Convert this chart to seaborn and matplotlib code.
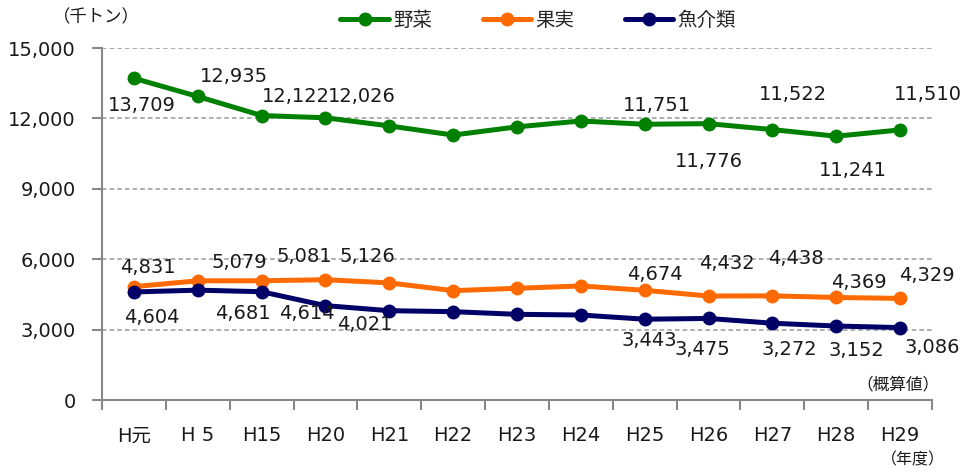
import numpy as np
import pandas as pd
import matplotlib
matplotlib.use("Agg")
import matplotlib.pyplot as plt
import seaborn as sns

years = ["H元", "H 5", "H15", "H20", "H21", "H22", "H23", "H24",
         "H25", "H26", "H27", "H28", "H29"]
vegetables = [13709, 12935, 12122, 12026, 11680, 11290, 11640, 11890,
              11751, 11776, 11522, 11241, 11510]
fruits = [4831, 5079, 5081, 5126, 4990, 4660, 4760, 4860,
          4674, 4432, 4438, 4369, 4329]
fish = [4604, 4681, 4614, 4021, 3806, 3764, 3651, 3622,
        3443, 3475, 3272, 3152, 3086]
series_names = ["野菜", "果実", "魚介類"]
labeled_idx = [0, 1, 2, 3, 8, 9, 10, 11, 12]

colors = ["#008000", "#FF6A00", "#000066"]

# label offsets in pixels (dx, dy) for labeled points
offsets = {
    "野菜": [(8, -27), (36, 20), (34, 19), (36, 21), (12, 19), (0, -38),
           (21, 35), (17, -34), (28, 35)],
    "果実": [(14, 19), (42, 18), (43, 24), (42, 23), (10, 16), (18, 32),
           (23, 37), (23, 15), (27, 23)],
    "魚介類": [(18, -26), (45, -23), (45, -22), (39, -19), (5, -21), (-6, -31),
            (17, -26), (20, -24), (32, -20)],
}

sns.set_theme(style="white")
plt.rcParams["font.family"] = ["DejaVu Sans", "Noto Sans CJK JP"]

df = pd.DataFrame({
    "x": list(range(len(years))) * 3,
    "value": vegetables + fruits + fish,
    "series": [s for s in series_names for _ in years],
})

fig = plt.figure(figsize=(9.66, 4.73), dpi=100)
ax = fig.add_axes([102 / 966, 1 - 400 / 473, 830 / 966, 352 / 473])

sns.lineplot(data=df, x="x", y="value", hue="series", hue_order=series_names,
             palette=colors, marker="o", markersize=10, markeredgewidth=0,
             linewidth=3.6, sort=False, ax=ax, legend=True)

for name, col in zip(series_names, colors):
    vals = df[df["series"] == name]["value"].values
    for (dx, dy), i in zip(offsets[name], labeled_idx):
        ax.annotate(f"{vals[i]:,}", (i, vals[i]), xytext=(dx, dy),
                    textcoords="offset pixels", ha="center", va="center",
                    fontsize=14, color="#1a1a1a")

ax.set_xlim(-0.5, len(years) - 0.5)
ax.set_ylim(0, 15000)
ax.set_yticks(range(0, 15001, 3000))
ax.set_yticklabels([f"{v:,}" for v in range(0, 15001, 3000)])
ax.set_xticks(range(len(years)))
ax.set_xticklabels(years)
ax.set_xticks(np.arange(-0.5, len(years)), minor=True)
ax.tick_params(axis="x", which="major", length=0, pad=19, labelsize=14, labelcolor="#1a1a1a")
ax.tick_params(axis="x", which="minor", length=7, width=1.5, color="#888888", bottom=True)
ax.tick_params(axis="y", length=7, width=1.5, color="#888888", pad=12,
               labelsize=14, labelcolor="#1a1a1a", left=True)
ax.set_xlabel("")
ax.set_ylabel("")

for v in range(3000, 15001, 3000):
    ax.axhline(v, color="#999999", linestyle=(0, (3, 2)), linewidth=1.1, zorder=0)

for side in ["top", "right"]:
    ax.spines[side].set_visible(False)
for side in ["left", "bottom"]:
    ax.spines[side].set_color("#888888")
    ax.spines[side].set_linewidth(1.5)

handles, labels = ax.get_legend_handles_labels()
ax.get_legend().remove()
fig.legend(handles, labels, loc="center", bbox_to_anchor=(538 / 966, 1 - 20 / 473),
           ncol=3, frameon=False, fontsize=14, handlelength=2.5,
           handletextpad=0.2, columnspacing=2.6)

fig.text(53 / 966, 1 - 17 / 473, "（千トン）", fontsize=12.5, va="center", ha="left", color="#1a1a1a")
fig.text(940 / 966, 1 - 384 / 473, "（概算値）", fontsize=12, va="center", ha="right", color="#1a1a1a")
fig.text(945 / 966, 1 - 460 / 473, "（年度）", fontsize=11.5, va="center", ha="right", color="#1a1a1a")

fig.savefig("out.png", dpi=100)
